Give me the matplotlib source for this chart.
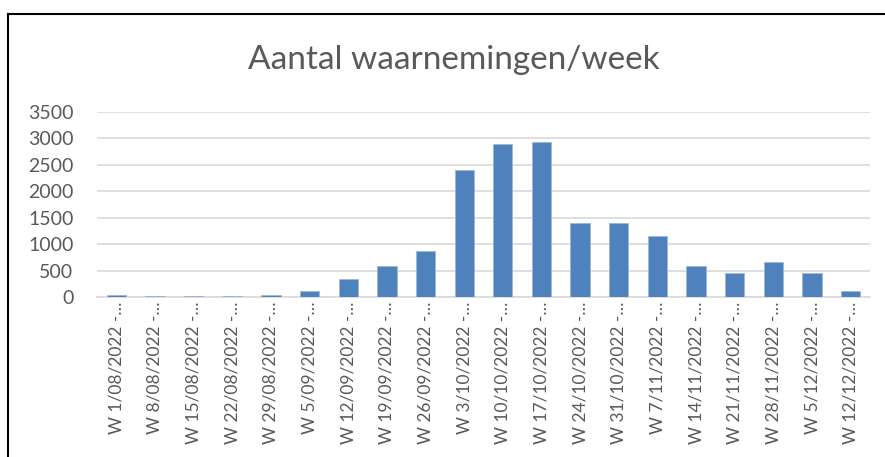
import matplotlib
matplotlib.use("Agg")
import matplotlib.pyplot as plt
from matplotlib.lines import Line2D

categories = ["W 1/08/2022 -…", "W 8/08/2022 -…", "W 15/08/2022 -…", "W 22/08/2022 -…",
              "W 29/08/2022 -…", "W 5/09/2022 -…", "W 12/09/2022 -…", "W 19/09/2022 -…",
              "W 26/09/2022 -…", "W 3/10/2022 -…", "W 10/10/2022 -…", "W 17/10/2022 -…",
              "W 24/10/2022 -…", "W 31/10/2022 -…", "W 7/11/2022 -…", "W 14/11/2022 -…",
              "W 21/11/2022 -…", "W 28/11/2022 -…", "W 5/12/2022 -…", "W 12/12/2022 -…"]
values = [38, 19, 25, 25, 40, 125, 345, 596, 879, 2400, 2890, 2920,
          1400, 1400, 1150, 585, 452, 672, 458, 119]
yticks = [0, 500, 1000, 1500, 2000, 2500, 3000, 3500]
title = "Aantal waarnemingen/week"

W, H = 885, 457
fig = plt.figure(figsize=(W / 100, H / 100), dpi=100)
fig.patch.set_facecolor("white")
ax = fig.add_axes([97 / W, 1 - 297.3 / H, (870 - 97) / W, (297.3 - 111.7) / H])

font = "Lato"
txtcol = "#595959"
x = list(range(len(categories)))
ax.bar(x, values, width=0.5, color="#4F81BD", edgecolor="#9DB7DA", linewidth=0.6, zorder=3)
ax.set_xlim(-0.5, len(categories) - 0.5)
ax.set_ylim(0, 3500)
ax.set_yticks(yticks)
ax.set_yticklabels([str(v) for v in yticks], fontsize=14, color=txtcol, family=font)
ax.set_xticks(x)
ax.set_xticklabels(categories, rotation=90, fontsize=12.5, color=txtcol, family=font,
                   va="top", ha="center")
ax.tick_params(axis="y", length=0, pad=17)
ax.tick_params(axis="x", length=0, pad=3)
ax.grid(axis="y", color="#D9D9D9", linewidth=1.2, zorder=0)
for s in ["top", "right", "left"]:
    ax.spines[s].set_visible(False)
ax.spines["bottom"].set_color("#D9D9D9")
ax.spines["bottom"].set_linewidth(1.2)

fig.text(454 / W, 1 - 60 / H, title, ha="center", va="center", fontsize=24,
         color=txtcol, family=font)

# chart frame (left and top edges)
fig.add_artist(Line2D([8 / W, 8 / W], [0, 1 - 13.5 / H], transform=fig.transFigure,
                      color="black", linewidth=1.5))
fig.add_artist(Line2D([8 / W, 1], [1 - 13.5 / H, 1 - 13.5 / H], transform=fig.transFigure,
                      color="black", linewidth=1.5))

fig.savefig("out.png", dpi=100)
